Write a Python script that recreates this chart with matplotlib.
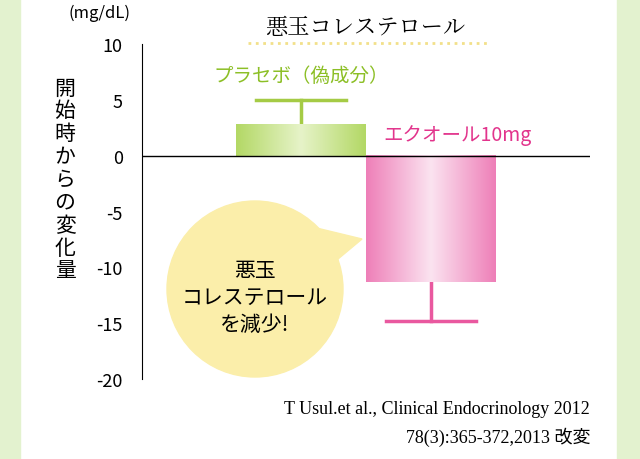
import numpy as np
import matplotlib.pyplot as plt
from matplotlib.patches import Circle, Polygon
from matplotlib.colors import LinearSegmentedColormap

plt.rcParams['font.family'] = ['Noto Sans CJK JP', 'DejaVu Sans']

groups = ['プラセボ（偽成分）', 'エクオール10mg']
means = [2.8, -11.3]
errors = [2.2, 3.5]
yticks = [10, 5, 0, -5, -10, -15, -20]

edge_cols = ['#b3d865', '#ee7fb8']
mid_cols = ['#e6f3c8', '#fbe3f0']
err_cols = ['#a5cb45', '#e9589f']
label_cols = ['#8cbf26', '#e2348c']

fig = plt.figure(figsize=(6.4, 4.6), dpi=100)
# green textured side bands
bg = fig.add_axes([0, 0, 1, 1])
bg.set_xlim(0, 640); bg.set_ylim(460, 0); bg.axis('off')
bg.axvspan(0, 20, color='#e3f2cf')
bg.axvspan(617, 640, color='#e3f2cf')

ax = fig.add_axes([0.222, 0.174, 0.7, 0.728])
ax.patch.set_alpha(0)
ax.set_xlim(0, 1)
ax.set_ylim(-20, 10)
xs = [0.355, 0.645]
w = 0.29
grad = np.abs(np.linspace(-1, 1, 256))[None, :]
for x, m, e, ec, mc, rc, lc, g in zip(xs, means, errors, edge_cols, mid_cols,
                                        err_cols, label_cols, groups):
    cmap = LinearSegmentedColormap.from_list('g', [mc, ec])
    ax.imshow(grad, cmap=cmap, extent=[x - w / 2, x + w / 2, min(0, m), max(0, m)],
              aspect='auto', zorder=2)
    tip = m + e if m > 0 else m - e
    ax.plot([x, x], [m, tip], color=rc, lw=2.5, zorder=1)
    ax.plot([x - 0.1, x + 0.1], [tip, tip], color=rc, lw=2.5, zorder=1)
ax.text(xs[0], 7.2, groups[0], color=label_cols[0], ha='center', va='center', fontsize=14)
ax.text(xs[1] + 0.06, 1.9, groups[1], color=label_cols[1], ha='center', va='center', fontsize=14)
ax.axhline(0, color='black', lw=1, zorder=3)

for s in ['top', 'right', 'bottom']:
    ax.spines[s].set_visible(False)
ax.set_xticks([])
ax.set_yticks(yticks)
ax.set_yticklabels([str(t) for t in yticks], fontsize=13)
ax.tick_params(axis='y', length=0, pad=14)

# overlay for annotations
ov = fig.add_axes([0, 0, 1, 1])
ov.set_xlim(0, 640); ov.set_ylim(460, 0); ov.axis('off')
ov.patch.set_alpha(0)

ov.text(365, 28, '悪玉コレステロール', ha='center', va='center', fontsize=16,
        family=['Noto Serif CJK JP', 'Noto Sans CJK JP'])
ov.plot([248, 488], [44, 44], color='#f2e08a', lw=2, ls=':')
ov.text(100, 13, '(mg/dL)', ha='center', va='center', fontsize=12)
ov.text(65, 180, '\n'.join('開始時からの変化量'), ha='center', va='center',
        fontsize=15, linespacing=1.05)

# speech bubble
ov.add_patch(Polygon([[300, 225], [362, 240], [320, 275]], color='#fbeeaa', zorder=4))
ov.add_patch(Circle((255, 290), 88, color='#fbeeaa', zorder=4))
ov.text(255, 298, '悪玉\nコレステロール\nを減少!', ha='center', va='center',
        fontsize=15, linespacing=1.3, zorder=5)

ov.text(590, 410, 'T Usul.et al., Clinical Endocrinology 2012', ha='right', va='center',
        fontsize=13, family=['Liberation Serif', 'Noto Sans CJK JP'])
ov.text(590, 437, '78(3):365-372,2013 改変', ha='right', va='center',
        fontsize=13, family=['Liberation Serif', 'Noto Sans CJK JP'])

fig.savefig('out.png', dpi=100)
